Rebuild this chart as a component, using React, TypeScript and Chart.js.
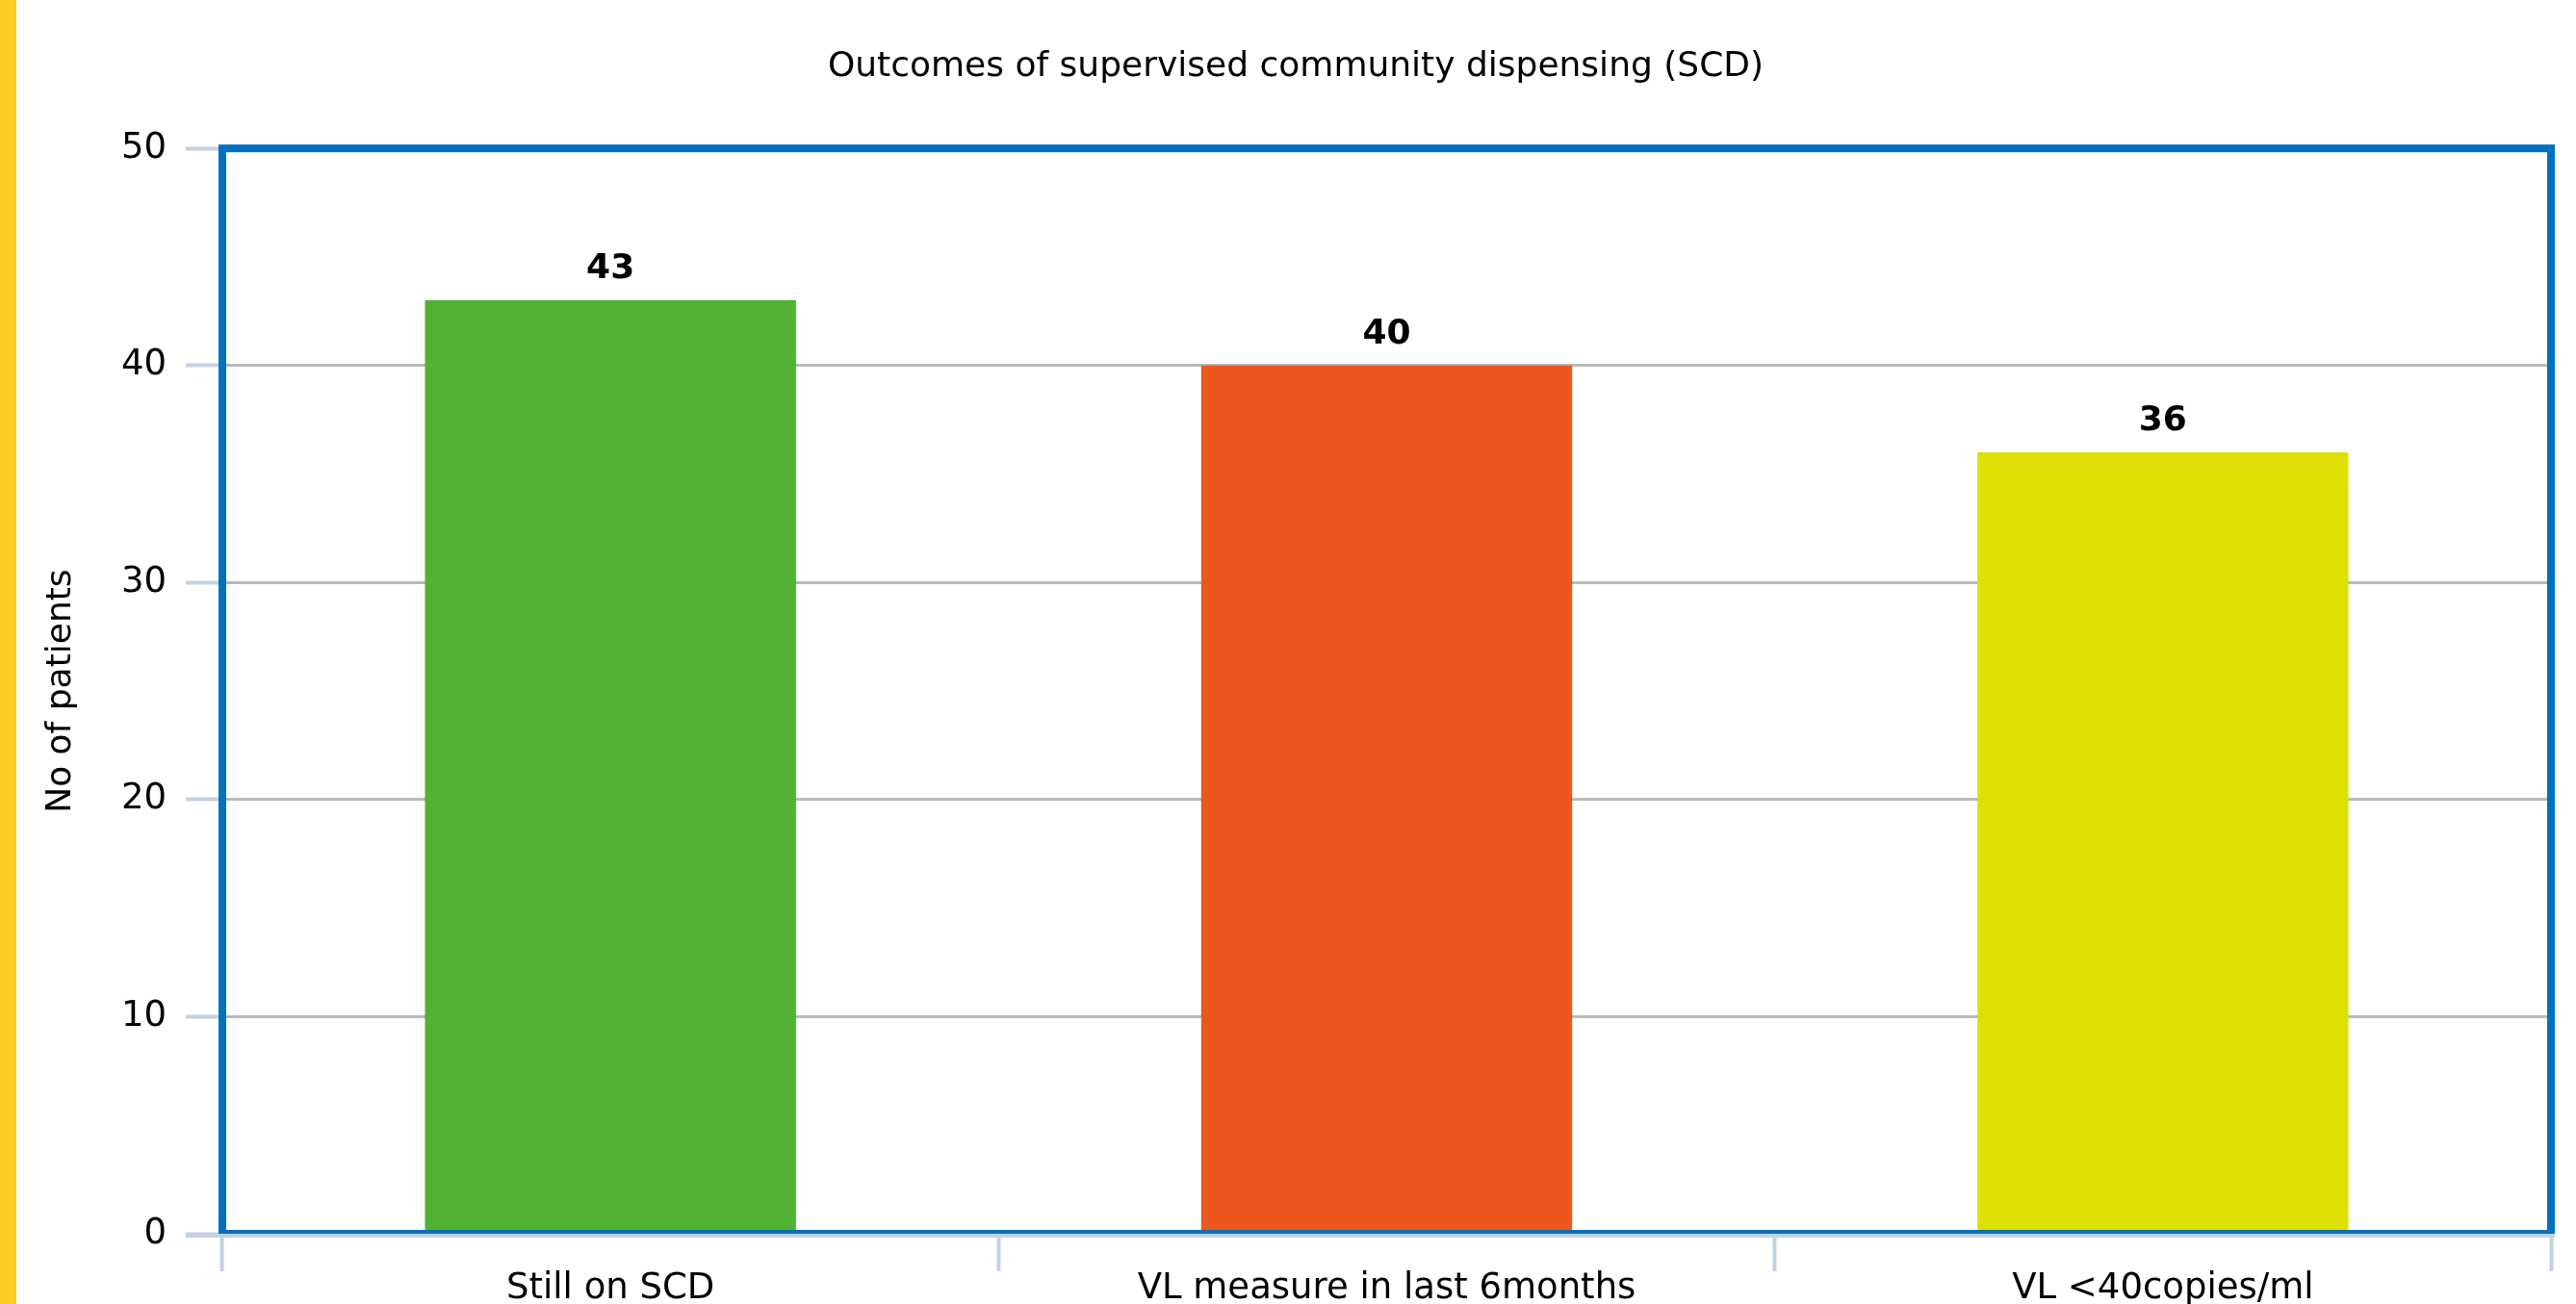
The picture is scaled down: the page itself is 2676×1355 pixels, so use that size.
import React, { useEffect, useRef } from "react";
import { Chart, registerables } from "chart.js";

Chart.register(...registerables);

const chartTitle = "Outcomes of supervised community dispensing (SCD)";
const yAxisTitle = "No of patients";
const categories = ["Still on SCD", "VL measure in last 6months", "VL <40copies/ml"];
const patientCounts = [43, 40, 36];
const barColors = ["#52B233", "#EB571D", "#DDE000"];
const yTickValues = [0, 10, 20, 30, 40, 50];

const FONT = "'DejaVu Sans', Verdana, sans-serif";
const FRAME_BLUE = "#0070C0";
const TICK_COLOR = "#C3D1E2";
const GRID_COLOR = "#B9B9B9";
const Y_TICK_LEN = 38;

const valueLabelPlugin = {
  id: "valueLabels",
  afterDatasetsDraw(chart: any) {
    const ctx = chart.ctx;
    const meta = chart.getDatasetMeta(0);
    const data = chart.data.datasets[0].data;
    ctx.save();
    ctx.font = `bold 36px ${FONT}`;
    ctx.fillStyle = "#000";
    ctx.textAlign = "center";
    ctx.textBaseline = "alphabetic";
    meta.data.forEach((bar: any, i: number) => {
      ctx.fillText(String(data[i]), bar.x, bar.y - 23);
    });
    ctx.restore();
  },
};

const framePlugin = {
  id: "plotFrame",
  afterDraw(chart: any) {
    const ctx = chart.ctx;
    const { left, top, right, bottom } = chart.chartArea;
    ctx.save();
    ctx.strokeStyle = FRAME_BLUE;
    ctx.lineWidth = 8;
    ctx.lineJoin = "miter";
    ctx.strokeRect(left, top, right - left, bottom - top);
    ctx.strokeStyle = TICK_COLOR;
    ctx.lineWidth = 4;
    ctx.beginPath();
    ctx.moveTo(left - Y_TICK_LEN, bottom + 2);
    ctx.lineTo(right + 4, bottom + 2);
    ctx.stroke();
    ctx.restore();
  },
};

export default function App() {
  const canvasRef = useRef<HTMLCanvasElement | null>(null);

  useEffect(() => {
    const canvas = canvasRef.current;
    if (!canvas) return;
    const chart = new Chart(canvas, {
      type: "bar",
      data: {
        labels: categories,
        datasets: [
          {
            data: patientCounts,
            backgroundColor: barColors,
            borderWidth: 0,
            barPercentage: 0.478,
            categoryPercentage: 1,
          },
        ],
      },
      options: {
        responsive: false,
        animation: false,
        devicePixelRatio: 1,
        layout: { padding: { left: 42, right: 26, top: 0, bottom: 0 } },
        plugins: {
          legend: { display: false },
          tooltip: { enabled: false },
          title: {
            display: true,
            text: chartTitle,
            color: "#000",
            font: { family: FONT, size: 36, weight: "normal", lineHeight: 1.2 },
            padding: { top: 48, bottom: 63 },
          },
        },
        scales: {
          x: {
            type: "category",
            offset: true,
            afterFit: (scale: any) => {
              scale.height = 73;
            },
            grid: {
              display: true,
              drawOnChartArea: false,
              drawTicks: true,
              tickLength: 39,
              tickColor: TICK_COLOR,
              tickWidth: 4,
              offset: true,
            },
            border: { display: false },
            ticks: {
              color: "#000",
              font: { family: FONT, size: 37, lineHeight: 1 },
              padding: 0,
              maxRotation: 0,
              autoSkip: false,
            },
          },
          y: {
            min: 0,
            max: 50,
            afterFit: (scale: any) => {
              scale.width = 189;
            },
            afterBuildTicks: (scale: any) => {
              scale.ticks = yTickValues.map((v) => ({ value: v }));
            },
            grid: {
              color: GRID_COLOR,
              lineWidth: 3,
              drawTicks: true,
              tickLength: Y_TICK_LEN,
              tickColor: TICK_COLOR,
              tickWidth: 4,
            },
            border: { display: false },
            ticks: {
              color: "#000",
              font: { family: FONT, size: 37 },
              padding: 20,
            },
            title: {
              display: true,
              text: yAxisTitle,
              color: "#000",
              font: { family: FONT, size: 36, lineHeight: 1.2 },
              padding: { top: 0, bottom: 0 },
            },
          },
        },
      },
      plugins: [valueLabelPlugin, framePlugin],
    });
    return () => chart.destroy();
  }, []);

  return (
    <div style={{ position: "absolute", left: 0, top: 0, width: 2676, height: 1355, background: "#fff", overflow: "hidden" }}>
      <canvas ref={canvasRef} width={2676} height={1355} style={{ display: "block", width: 2676, height: 1355 }} />
      <div style={{ position: "absolute", left: 0, top: 0, width: 17, height: 1355, background: "#FFCC22" }} />
    </div>
  );
}
